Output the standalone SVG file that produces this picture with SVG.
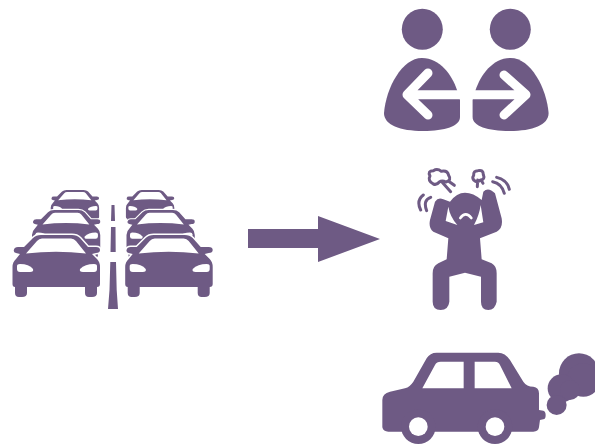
<svg xmlns="http://www.w3.org/2000/svg" width="595" height="444" viewBox="0 0 595 444">
<style>
.f{fill:#6e5a84}
.w{fill:#fff}
.ws{fill:none;stroke:#fff;stroke-linecap:round;stroke-linejoin:round}
.ps{fill:none;stroke:#6e5a84;stroke-width:9;stroke-linecap:round;stroke-linejoin:round}
</style>
<defs>
<g id="car">
<path class="f" stroke="#fff" stroke-width="3" paint-order="stroke" d="M24,247 L33,238 Q36,235 41,235 L72,235 Q77,235 80,238 L88,247 L96,247 Q100,247 100,250 Q100,253 96,253 L92,254 L97,259 Q100,262 100,267 L100,284 Q100,287 97,287 L97,293 Q97,297 92,297 L89,297 Q85,297 85,293 L85,287 L27,287 L27,293 Q27,297 22,297 L19,297 Q15,297 15,293 L15,287 Q12.500,287 12.500,284 L12.500,267 Q12.500,262 16,259 L20,254 L16,253 Q13,252.500 14,249.500 Q14.500,247 18,247 Z"/>
<path class="w" d="M26,253.500 L37,241 Q39,238.500 42,238.500 L71,238.500 Q74,238.500 76,241 L86,253.500 Q56,250 26,253.500 Z"/>
<path class="w" d="M17,266 Q17,264 20,264 Q29,264 33,269 Q34,272 30,272 L20,272 Q17,272 17,269 Z"/>
<path class="w" d="M97,266 Q97,264 94,264 Q85,264 80,269 Q79,272 83,272 L94,272 Q97,272 97,269 Z"/>
</g>
</defs>
<g id="traffic">
<use href="#car" transform="translate(43.800,60) scale(0.553)"/>
<use href="#car" transform="translate(22.250,26.700) scale(0.78)"/>
<use href="#car"/>
<use href="#car" transform="translate(119,60) scale(0.553)"/>
<use href="#car" transform="translate(116.750,26.700) scale(0.78)"/>
<use href="#car" transform="translate(112.700,0)"/>
<path class="f" d="M111.500,205 H114.500 L115,221 H111 Z M111,227 H115.500 L115.700,252 H110.500 Z M110.300,262 H116 L116.700,290 L118,309 H108 L109.500,290 Z"/>
</g>
<g id="arrow-people">
<g id="person-left">
<circle class="f" cx="422.300" cy="29.300" r="20.500"/>
<path class="f" d="M457,90 C452,75 440,58 422,58 C402,58 386,88 384,113 C384,125 400,131 423,131 C445,131 460,126 460,117 L460,100 Z"/>
</g>
<g id="person-right" transform="translate(932.600,0) scale(-1,1)">
<circle class="f" cx="422.300" cy="29.300" r="20.500"/>
<path class="f" d="M457,90 C452,75 440,58 422,58 C402,58 386,88 384,113 C384,125 400,131 423,131 C445,131 460,126 460,117 L460,100 Z"/>
</g>
<path class="ws" stroke-width="9" d="M428,73 L407,94.700 L428,115 M407,94.700 H526 M504,75 L526,94.700 L504,115"/>
</g>
<g id="arrow">
<path class="f" d="M248,229 H318 V216 L380,239 L318,262 V248 H248 Z"/>
</g>
<g id="angry-person" transform="translate(400,160) scale(0.3333)">
<path class="f" d="M98,340 Q98,318 115,310 L140,298 L145,235 L100,215 Q85,205 90,180 L105,125 Q115,110 130,118 L150,125 Q170,98 195,98 Q220,98 245,120 L250,95 Q265,80 285,100 L305,175 Q310,205 290,215 L240,235 L245,298 L275,310 Q290,318 290,340 L290,425 Q285,450 265,450 Q243,450 243,425 L243,350 L195,338 L148,350 L148,425 Q145,450 122,450 Q98,450 98,425 Z"/>
<path class="w" d="M145,140 L137,183 L172,195 Q150,170 145,140 Z M242,135 L250,187 L222,195 Q238,165 242,135 Z"/>
<path class="ws" stroke-width="8" d="M181,174 Q197,152 214,174"/>
<path class="ps" d="M92,112 Q68,120 80,152 M70,105 Q48,122 62,150 M278,65 Q305,70 313,100 M290,52 Q322,60 328,88"/>
<path class="ps" d="M100,72 Q82,62 90,48 Q82,32 100,32 Q112,24 124,34 Q142,30 146,46 Q156,60 138,66 Q126,60 118,66 Q110,76 100,72 Z M126,66 L152,95 M146,64 L163,76"/>
<path class="ps" d="M226,64 Q214,56 221,46 Q220,32 234,32 Q250,28 250,44 Q256,58 242,60 Q232,68 226,64 Z M233,60 L232,80 M243,60 L249,70"/>
</g>
<g id="exhaust-car" transform="translate(375,340) scale(0.3333)">
<path class="f" d="M22,180 Q22,160 45,155 L90,145 Q105,140 115,125 L155,55 Q165,38 185,38 L370,38 Q390,38 405,60 L445,125 Q455,140 475,140 Q492,142 492,160 L492,210 L505,212 Q512,214 512,225 Q512,238 505,238 L495,240 L492,262 Q490,275 475,275 L40,275 Q25,275 22,262 Z"/>
<circle class="f" cx="130" cy="260" r="52"/>
<circle class="f" cx="360" cy="260" r="52"/>
<circle class="w" cx="130" cy="260" r="28"/>
<circle class="w" cx="360" cy="260" r="28"/>
<path class="w" d="M142,145 L180,75 Q185,65 197,65 L266,65 L266,145 Z M299,65 L360,65 Q370,65 375,75 L410,145 L299,145 Z"/>
<g class="f">
<circle cx="612" cy="100" r="60"/>
<circle cx="625" cy="120" r="50"/>
<circle cx="560" cy="145" r="42"/>
<circle cx="545" cy="195" r="30"/>
<circle cx="585" cy="150" r="30"/>
</g>
</g>
</svg>
